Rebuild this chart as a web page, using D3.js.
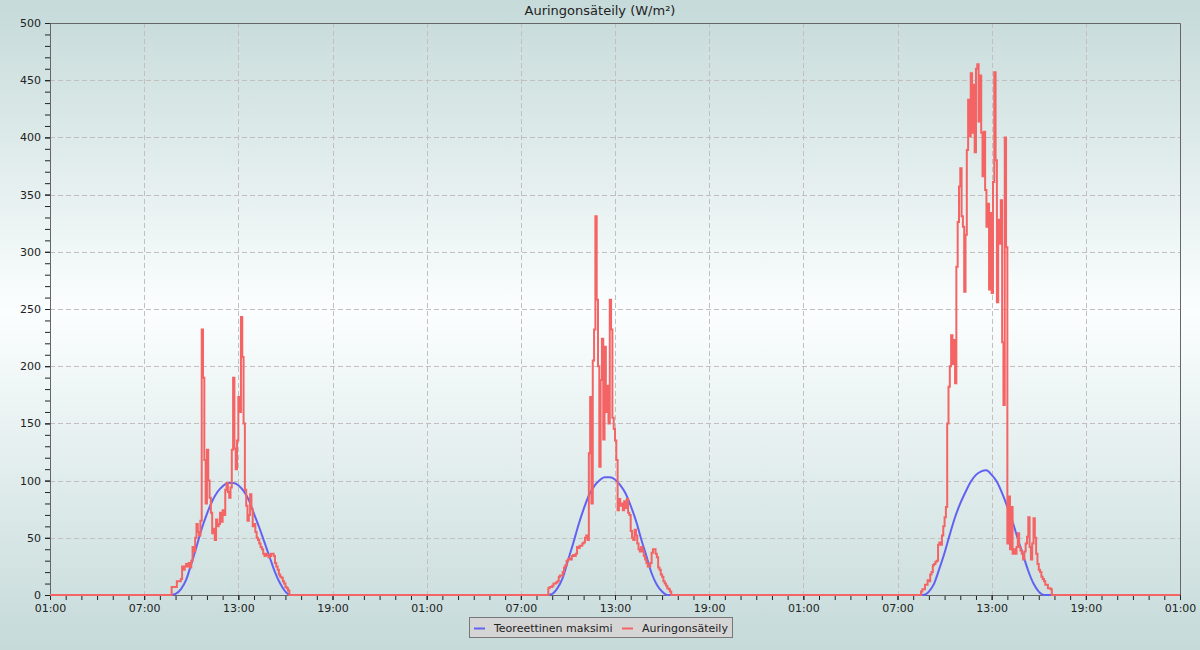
<!DOCTYPE html>
<html>
<head>
<meta charset="utf-8">
<script src="https://cdn.jsdelivr.net/npm/d3@7"></script>
<style>
  html, body { margin: 0; padding: 0; }
  body { width: 1200px; height: 650px; overflow: hidden; font-family: "DejaVu Sans", sans-serif; }
</style>
</head>
<body>
<svg id="chart" width="1200" height="650"></svg>
<script>
// ---------------- DATA ----------------
const chartTitle = "Auringonsäteily (W/m²)";
const seriesNames = ["Teoreettinen maksimi", "Auringonsäteily"];
const xTickLabels = ["01:00","07:00","13:00","19:00","01:00","07:00","13:00","19:00","01:00","07:00","13:00","19:00","01:00"];
const yTickValues = [0,50,100,150,200,250,300,350,400,450,500];
const totalHours = 72;                 // 01:00 day 1 .. 01:00 day 4

// Measured radiation (W/m²), 5‑minute readings, start hour = hours after first 01:00
const radiationStartHours = [7.75, 31.75, 55.5];
const radiationStepMinutes = 5;
const radiationDay1 = [7,7,7,7,12,12,12,14,25,22,25,27,25,28,24,30,42,38,50,62,55,52,65,232,190,118,80,127,100,85,72,54,58,48,66,60,62,72,64,74,70,92,98,90,85,94,127,190,128,110,135,173,160,243,208,150,92,78,65,70,88,75,60,62,55,50,48,45,42,40,36,34,36,35,33,34,36,36,34,28,25,22,18,16,15,12,10,7,6,4];
const radiationDay2 = [6,7,7,8,10,10,11,12,16,17,17,20,24,26,30,31,32,31,34,35,34,36,42,41,43,43,45,46,50,52,48,124,173,80,205,232,331,258,200,112,188,224,136,217,160,183,150,258,232,155,145,135,118,74,84,78,80,74,82,76,84,72,70,56,50,48,57,52,45,40,38,42,38,34,31,28,25,25,28,37,40,40,36,33,24,22,18,16,12,10,8,6,5,3];
const radiationDay3 = [3,5,5,9,9,13,12,18,20,26,27,29,30,44,46,44,52,60,68,77,150,182,200,227,202,223,185,287,326,357,373,331,322,265,315,389,433,401,456,404,446,387,460,464,414,454,404,366,405,354,322,342,267,334,264,361,457,380,256,328,307,345,221,166,400,304,45,86,40,77,36,40,36,42,54,42,39,36,31,38,45,51,68,42,31,45,67,50,36,27,22,20,16,14,12,9,9,6,6,5];

// Theoretical maximum (W/m²), 20‑minute readings
const maximumStartHours = [7.6667, 31.6667, 55.6667];
const maximumStepMinutes = 20;
const maximumDay1 = [0,1,5,13,27,42,58,71,82,90,95,98,98,96,91,83,71,59,46,33,20,10,3,0];
const maximumDay2 = [0,1,6,15,30,45,61,75,87,95,100,103,103,101,96,89,78,65,49,34,19,9,3,0];
const maximumDay3 = [0,3,10,23,37,53,68,80,90,99,105,108,109,105,99,89,77,64,49,35,21,10,3,0];

// ---------------- BUILD SERIES ----------------
function buildSeries(days, starts, stepMin) {
  const pts = [{h: 0, v: 0}];
  days.forEach((vals, d) => {
    vals.forEach((v, i) => pts.push({h: starts[d] + i * stepMin / 60, v}));
    pts.push({h: starts[d] + vals.length * stepMin / 60, v: 0});
  });
  pts.push({h: totalHours, v: 0});
  return pts;
}
const radiation = buildSeries([radiationDay1, radiationDay2, radiationDay3], radiationStartHours, radiationStepMinutes);
const maximum = buildSeries([maximumDay1, maximumDay2, maximumDay3], maximumStartHours, maximumStepMinutes);

// ---------------- DRAW ----------------
const W = 1200, H = 650;
const plot = {left: 50, top: 23, right: 1180, bottom: 595};
const svg = d3.select("#chart");

const defs = svg.append("defs");
const grad = defs.append("linearGradient").attr("id", "bg").attr("x1", 0).attr("y1", 0).attr("x2", 0).attr("y2", 1);
grad.append("stop").attr("offset", "0%").attr("stop-color", "#c5dad9");
grad.append("stop").attr("offset", "48%").attr("stop-color", "#fbfefe");
grad.append("stop").attr("offset", "100%").attr("stop-color", "#c5dad9");
svg.append("rect").attr("width", W).attr("height", H).attr("fill", "url(#bg)");

const x = d3.scaleLinear().domain([0, totalHours]).range([plot.left, plot.right]);
const y = d3.scaleLinear().domain([0, 500]).range([plot.bottom, plot.top]);

const majorX = d3.range(0, totalHours + 1, 6);

// grid
const grid = svg.append("g").attr("stroke", "#c3bfbf").attr("stroke-width", 1).attr("stroke-dasharray", "5,3").attr("shape-rendering", "crispEdges");
grid.selectAll("line.h").data(yTickValues.filter(v => v > 0 && v < 500)).join("line")
  .attr("x1", plot.left).attr("x2", plot.right).attr("y1", d => Math.round(y(d)) + 0.5).attr("y2", d => Math.round(y(d)) + 0.5);
grid.selectAll("line.v").data(majorX.filter(h => h > 0 && h < totalHours)).join("line")
  .attr("y1", plot.top).attr("y2", plot.bottom).attr("x1", d => Math.round(x(d)) + 0.5).attr("x2", d => Math.round(x(d)) + 0.5);

// axes
const axisFont = g => g.selectAll("text").attr("font-family", "DejaVu Sans").attr("font-size", 11).attr("fill", "#222");

const xMinor = d3.axisBottom(x).tickValues(d3.range(0, totalHours + 1, 1)).tickFormat("").tickSize(5).tickSizeOuter(0);
svg.append("g").attr("transform", `translate(0,${plot.bottom})`).call(xMinor)
  .call(g => g.select(".domain").remove())
  .call(g => g.selectAll("line").attr("stroke", "#222"));

const xAxis = d3.axisBottom(x).tickValues(majorX).tickFormat((d, i) => xTickLabels[i]).tickSize(5).tickSizeOuter(0).tickPadding(4);
svg.append("g").attr("transform", `translate(0,${plot.bottom})`).call(xAxis)
  .call(g => g.select(".domain").attr("stroke", "#666"))
  .call(g => g.selectAll("line").attr("stroke", "#222"))
  .call(axisFont);

const yMinor = d3.axisLeft(y).tickValues(d3.range(0, 501, 10)).tickFormat("").tickSize(5).tickSizeOuter(0);
svg.append("g").attr("transform", `translate(${plot.left},0)`).call(yMinor)
  .call(g => g.select(".domain").remove())
  .call(g => g.selectAll("line").attr("stroke", "#222"));

const yAxis = d3.axisLeft(y).tickValues(yTickValues).tickSize(5).tickSizeOuter(0).tickPadding(4);
svg.append("g").attr("transform", `translate(${plot.left},0)`).call(yAxis)
  .call(g => g.select(".domain").attr("stroke", "#666"))
  .call(g => g.selectAll("line").attr("stroke", "#222"))
  .call(axisFont);

// top & right border
svg.append("path")
  .attr("d", `M${plot.left},${plot.top + 0.5}H${plot.right + 0.5}V${plot.bottom}`)
  .attr("fill", "none").attr("stroke", "#666").attr("stroke-width", 1);

// lines
const lineMax = d3.line().x(d => x(d.h)).y(d => y(d.v)).curve(d3.curveMonotoneX);
const lineRad = d3.line().x(d => x(d.h)).y(d => y(d.v)).curve(d3.curveStepAfter);

svg.append("path").datum(maximum).attr("d", lineMax)
  .attr("fill", "none").attr("stroke", "#6262f2").attr("stroke-width", 2);
svg.append("path").datum(radiation).attr("d", lineRad)
  .attr("fill", "none").attr("stroke", "#f46464").attr("stroke-width", 2).attr("stroke-linejoin", "miter");

// title
svg.append("text").attr("x", 600).attr("y", 15).attr("text-anchor", "middle")
  .attr("font-family", "DejaVu Sans").attr("font-size", 13).attr("fill", "#222").text(chartTitle);

// legend
const legend = svg.append("g");
legend.append("rect").attr("x", 469.5).attr("y", 617.5).attr("width", 263).attr("height", 20)
  .attr("fill", "#d5d5d5").attr("stroke", "#777");
const legendItems = [
  {name: seriesNames[0], color: "#6262f2", x: 474},
  {name: seriesNames[1], color: "#f46464", x: 622}
];
legendItems.forEach(it => {
  legend.append("line").attr("x1", it.x).attr("x2", it.x + 11).attr("y1", 628.5).attr("y2", 628.5)
    .attr("stroke", it.color).attr("stroke-width", 2);
  legend.append("text").attr("x", it.x + 20).attr("y", 631.5)
    .attr("font-family", "DejaVu Sans").attr("font-size", 11).attr("fill", "#222").text(it.name);
});
</script>
</body>
</html>
